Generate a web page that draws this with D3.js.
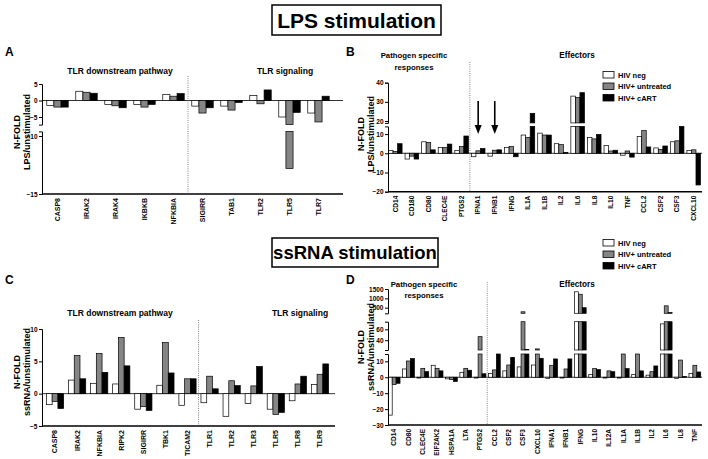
<!DOCTYPE html>
<html>
<head>
<meta charset="utf-8">
<script src="https://cdn.jsdelivr.net/npm/d3@7/dist/d3.min.js"></script>
<style>
  body { margin: 0; background: #fff; }
  svg { font-family: Arial, "Liberation Sans", sans-serif; font-weight: bold; }
</style>
</head>
<body>
<svg id="chart" width="708" height="459"></svg>
<script>
// series
const seriesNames = ["HIV neg", "HIV+ untreated", "HIV+ cART"]
const fills = ["#ffffff", "#858585", "#000000"]

// A: LPS, TLR pathway
const catsA = ["CASP8", "IRAK2", "IRAK4", "IKBKB", "NFKBIA", "SIGIRR", "TAB1", "TLR2", "TLR5", "TLR7"]
const negA = [-1.5, 2.8, -1.2, -1.2, 1.8, -1.7, -1.7, 1.5, -5.0, -3.8]
const untrA = [-2.0, 2.5, -1.6, -2.0, 1.3, -3.8, -2.9, -1.0, -12.8, -6.5]
const cartA = [-2.0, 2.2, -2.2, -1.2, 2.1, -2.2, -0.6, 3.2, -3.6, 1.3]

// B: LPS, effectors
const catsB = ["CD14", "CD180", "CD80", "CLEC4E", "PTGS2", "IFNA1", "IFNB1", "IFNG", "IL1A", "IL1B",
  "IL2", "IL6", "IL8", "IL10", "TNF", "CCL2", "CSF2", "CSF3", "CXCL10"]
const negB = [1.5, -3.0, 6.0, 3.0, 1.5, -1.8, -1.5, 3.0, 9.5, 10.5, 5.0, 33, 8.2, 4.0, -1.0, 8.8, 2.8, 6.0, 1.5]
const untrB = [1.0, -1.5, 5.6, 3.0, 3.5, 1.3, 1.6, 3.5, 8.2, 9.5, 4.5, 32.3, 7.5, 1.2, 1.2, 11.8, 2.0, 6.5, 1.8]
const cartB = [5.0, -3.0, 1.8, 4.8, 9.0, 2.5, 1.8, -1.8, 24, 9.5, 0.5, 34.8, 9.8, 1.6, -2.0, 3.3, 3.8, 14.5, -16.5]

// C: ssRNA, TLR pathway
const catsC = ["CASP8", "IRAK2", "NFKBIA", "RIPK2", "SIGIRR", "TBK1", "TICAM2", "TLR1", "TLR2", "TLR3", "TLR5", "TLR8", "TLR9"]
const negC = [-1.7, 2.1, 1.6, 1.5, -2.4, 1.3, -1.8, -1.4, -3.5, -1.5, -2.4, -1.1, 1.4]
const untrC = [-1.2, 5.9, 6.2, 8.7, -2.0, 7.9, 2.3, 2.7, 2.0, 1.2, -3.2, 1.5, 3.0]
const cartC = [-2.3, 2.3, 3.3, 4.3, -2.6, 3.2, 2.3, 0.75, 1.25, 4.2, -2.9, 2.7, 4.6]

// D: ssRNA, effectors
const catsD = ["CD14", "CD80", "CLEC4E", "EIF2AK2", "HSPA1A", "LTA", "PTGS2", "CCL2", "CSF2", "CSF3", "CXCL10",
  "IFNA1", "IFNB1", "IFNG", "IL10", "IL12A", "IL1A", "IL1B", "IL2", "IL6", "IL8", "TNF"]
const negD = [-23.8, 5.2, -0.5, 7.5, -1.0, 3.1, -0.5, 2.3, 4.0, 6.5, 7.7, -0.8, -0.5, 1350, 1.7, -0.5, -0.5, 1.7, 1.3, 70, -0.8, 2.3]
const untrD = [-4.6, 10.2, 5.6, 5.6, -1.5, 5.6, 46.5, 4.6, 7.7, 280, 24, 7.5, 5.2, 1220, 5.4, 4.0, 15, 15, 3.5, 600, 10.8, 7.5]
const cartD = [-3.8, 11.7, 3.5, 4.0, -2.7, 4.4, 2.2, 15, 12.5, 23, 11.9, 11.5, 11.5, 500, 4.8, 3.5, 5.4, 4.0, 7.1, 240, 0.4, 3.3]

// axis ticks per segment (bottom segment first)
const ticksA = [[-15, -10], [-5, 0, 5]]
const ticksB = [[-20, -10, 0, 10], [20, 30, 40]]
const ticksC = [[-5, 0, 5, 10]]
const ticksD = [[-30, -20, -10, 0, 10], [40, 60], [500, 1000, 1500]]

var svg = d3.select("#chart")

function panel(o) {
  var g = svg.append("g")
  var x = d3.scaleBand().domain(o.cats).range(o.band)
  var bw = x.bandwidth(), gw = bw * o.groupFrac, barW = gw / 3

  var segs = o.segs.map(function(s) {
    return { domain: s.domain, ticks: s.ticks, y: d3.scaleLinear().domain(s.domain).range(s.range) }
  })

  var rows = []
  o.series.forEach(function(vals, si) {
    vals.forEach(function(v, ci) {
      var lo = Math.min(0, v), hi = Math.max(0, v)
      segs.forEach(function(s) {
        var a = Math.max(lo, s.domain[0]), b = Math.min(hi, s.domain[1])
        if (b > a) rows.push({ cat: o.cats[ci], si: si, a: a, b: b, s: s })
      })
    })
  })

  // zero line
  var zs = segs.find(function(s) { return s.domain[0] <= 0 && s.domain[1] >= 0 })
  g.append("line")
    .attr("x1", o.axisX).attr("x2", o.xEnd)
    .attr("y1", zs.y(0)).attr("y2", zs.y(0))
    .attr("stroke", "#000").attr("stroke-width", 0.8)

  g.selectAll(".bar")
      .data(rows)
    .enter().append("rect")
      .attr("class", "bar")
      .attr("x", function(d) { return x(d.cat) + (bw - gw) / 2 + d.si * barW })
      .attr("y", function(d) { return d.s.y(d.b) })
      .attr("width", barW)
      .attr("height", function(d) { return d.s.y(d.a) - d.s.y(d.b) })
      .attr("fill", function(d) { return fills[d.si] })
      .attr("stroke", "#000")
      .attr("stroke-width", 0.7)

  // y axis segments
  segs.forEach(function(s) {
    g.append("g")
      .attr("transform", "translate(" + o.axisX + ",0)")
      .call(d3.axisLeft(s.y).tickValues(s.ticks).tickFormat(d3.format("d"))
        .tickSize(3).tickSizeOuter(3).tickPadding(1.5))
      .attr("font-family", null)
      .attr("font-size", 6.5)
  })

  // bottom axis
  var yb = segs[0].y(segs[0].domain[0])
  g.append("line")
    .attr("x1", o.axisX).attr("x2", o.xEnd)
    .attr("y1", yb).attr("y2", yb)
    .attr("stroke", "#000").attr("stroke-width", 1.4)

  g.selectAll(".cat")
      .data(o.cats)
    .enter().append("text")
      .attr("class", "cat")
      .attr("transform", function(d) { return "translate(" + (x(d) + bw / 2) + "," + (yb + 4) + ") rotate(-90)" })
      .attr("dy", "0.35em")
      .attr("text-anchor", "end")
      .style("font-size", o.labelSize + "px")
      .text(function(d) { return d })

  // dotted separator
  var sx = x(o.cats[o.sepAfter]) + bw
  g.append("line")
    .attr("x1", sx).attr("x2", sx)
    .attr("y1", o.sepTop).attr("y2", yb)
    .attr("stroke", "#666").attr("stroke-width", 0.8)
    .attr("stroke-dasharray", "1,1.2")

  // y title
  g.append("text")
    .attr("transform", "translate(" + o.titleX + "," + o.titleY + ") rotate(-90)")
    .attr("text-anchor", "middle")
    .style("font-size", "9px")
    .text("N-FOLD")
  g.append("text")
    .attr("transform", "translate(" + (o.titleX + 10) + "," + o.titleY + ") rotate(-90)")
    .attr("text-anchor", "middle")
    .style("font-size", "9px")
    .text(o.ytitle)

  return { x: x, bw: bw, segs: segs }
}

function label(txt, x, y, size, anchor) {
  svg.append("text").attr("x", x).attr("y", y)
    .attr("text-anchor", anchor || "middle")
    .style("font-size", size + "px")
    .text(txt)
}

function titleBox(txt, x, y, w, h, size) {
  svg.append("rect").attr("x", x).attr("y", y).attr("width", w).attr("height", h)
    .attr("fill", "none").attr("stroke", "#000").attr("stroke-width", 1.5)
  svg.append("text").attr("x", x + w / 2).attr("y", y + h / 2)
    .attr("dy", "0.36em").attr("text-anchor", "middle")
    .style("font-size", size + "px")
    .text(txt)
}

function legend(x, y) {
  seriesNames.forEach(function(n, i) {
    svg.append("rect").attr("x", x).attr("y", y + i * 11.5 - 3.5).attr("width", 11).attr("height", 6.5)
      .attr("fill", fills[i]).attr("stroke", "#000").attr("stroke-width", 0.8)
    svg.append("text").attr("x", x + 15).attr("y", y + i * 11.5).attr("dy", "0.35em")
      .style("font-size", "7.5px").text(n)
  })
}

// ---- top half: LPS
titleBox("LPS stimulation", 272, 5, 169, 30, 21)
legend(603, 75)
label("A", 5, 56, 12, "start")
label("B", 346, 56, 12, "start")
label("TLR downstream pathway", 120, 74, 8.5)
label("TLR signaling", 285, 74, 8.5)
label("Pathogen specific", 414, 58, 7.8)
label("responses", 414, 70, 7.8)
label("Effectors", 577, 58, 8.2)

panel({
  cats: catsA, series: [negA, untrA, cartA], band: [43, 333], groupFrac: 0.74,
  axisX: 42, xEnd: 343, sepAfter: 4, sepTop: 76, labelSize: 7,
  segs: [
    { domain: [-15, -9.6], range: [194, 131.4], ticks: ticksA[0] },
    { domain: [-7.3, 5], range: [124.6, 84], ticks: ticksA[1] }
  ],
  titleX: 20, titleY: 132, ytitle: "LPS/unstimulated"
})

var pB = panel({
  cats: catsB, series: [negB, untrB, cartB], band: [387, 702], groupFrac: 0.82,
  axisX: 388, xEnd: 702, sepAfter: 4, sepTop: 62, labelSize: 6.5,
  segs: [
    { domain: [-20, 14], range: [191.7, 126.4], ticks: ticksB[0] },
    { domain: [19, 40], range: [122.9, 82.7], ticks: ticksB[1] }
  ],
  titleX: 364, titleY: 134, ytitle: "LPS/unstimulated"
})

// arrows over IFNA1 / IFNB1
;["IFNA1", "IFNB1"].forEach(function(c) {
  var cx = pB.x(c) + pB.bw / 2
  svg.append("line").attr("x1", cx).attr("x2", cx).attr("y1", 101).attr("y2", 127)
    .attr("stroke", "#000").attr("stroke-width", 1.6)
  svg.append("path")
    .attr("d", "M" + (cx - 3.5) + ",125 L" + (cx + 3.5) + ",125 L" + cx + ",134 Z")
    .attr("fill", "#000")
})

// ---- bottom half: ssRNA
titleBox("ssRNA stimulation", 272, 238, 166, 29, 18.5)
legend(603, 243)
label("C", 5, 284, 12, "start")
label("D", 346, 284, 12, "start")
label("TLR downstream pathway", 120, 316, 8.5)
label("TLR signaling", 300, 316, 8.5)
label("Pathogen specific", 424, 287, 7.8)
label("responses", 424, 298, 7.8)
label("Effectors", 577, 287, 8.2)

panel({
  cats: catsC, series: [negC, untrC, cartC], band: [44, 331], groupFrac: 0.78,
  axisX: 42, xEnd: 335, sepAfter: 6, sepTop: 320, labelSize: 7,
  segs: [
    { domain: [-5, 10], range: [426, 329], ticks: ticksC[0] }
  ],
  titleX: 20, titleY: 372, ytitle: "ssRNA/unstimulated"
})

panel({
  cats: catsD, series: [negD, untrD, cartD], band: [387, 702], groupFrac: 0.82,
  axisX: 388, xEnd: 702, sepAfter: 6, sepTop: 282, labelSize: 6.5,
  segs: [
    { domain: [-30, 14.6], range: [425, 354], ticks: ticksD[0] },
    { domain: [22, 74], range: [350, 321.7], ticks: ticksD[1] },
    { domain: [200, 1500], range: [313.3, 289], ticks: ticksD[2] }
  ],
  titleX: 364, titleY: 347, ytitle: "ssRNA/unstimulated"
})
</script>
</body>
</html>
